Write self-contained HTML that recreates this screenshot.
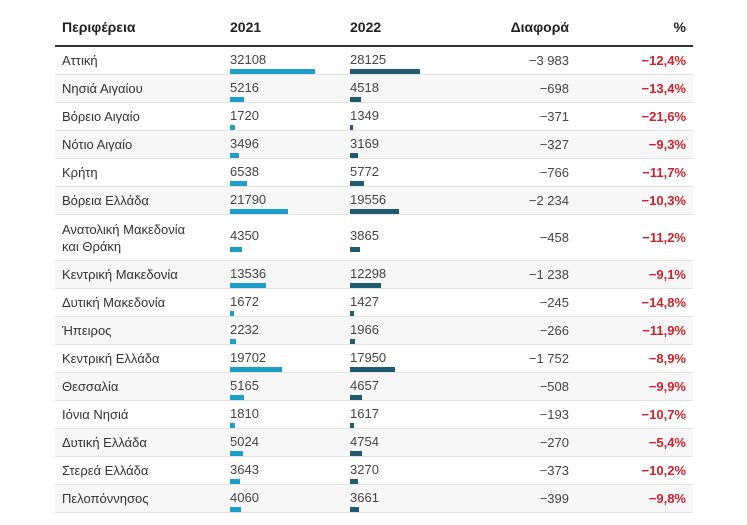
<!DOCTYPE html>
<html><head><meta charset="utf-8"><style>
body{margin:0;width:747px;height:525px;background:#fff;font-family:"Liberation Sans","DejaVu Sans",sans-serif;position:relative;overflow:hidden;color:#333}
.h{position:absolute;top:19px;font-weight:bold;font-size:14px;color:#222}
.hl{position:absolute;left:55px;width:638px;top:45px;height:2px;background:#333}
.r{position:absolute;left:55px;width:638px;border-bottom:1px solid #e2e2e2;box-sizing:border-box}
.r.s{background:#f7f7f7}
.n{position:absolute;left:7px;font-size:13px;line-height:17px}
.v{position:absolute;top:5px;font-size:13px;color:#444}
.b{position:absolute;height:5px}
.d{position:absolute;right:124px;font-size:13px;color:#444}
.p{position:absolute;right:7px;font-size:13px;color:#c8232c;font-weight:bold}
</style></head><body>
<div class="h" style="left:62px">Περιφέρεια</div>
<div class="h" style="left:230px">2021</div>
<div class="h" style="left:350px">2022</div>
<div class="h" style="right:178px">Διαφορά</div>
<div class="h" style="right:61px">%</div>
<div class="hl"></div>
<div id="t"></div>
<script>
var d=[["Αττική",32108,28125,"−3 983","−12,4%"],["Νησιά Αιγαίου",5216,4518,"−698","−13,4%"],["Βόρειο Αιγαίο",1720,1349,"−371","−21,6%"],["Νότιο Αιγαίο",3496,3169,"−327","−9,3%"],["Κρήτη",6538,5772,"−766","−11,7%"],["Βόρεια Ελλάδα",21790,19556,"−2 234","−10,3%"],["Ανατολική Μακεδονία<br>και Θράκη",4350,3865,"−458","−11,2%"],["Κεντρική Μακεδονία",13536,12298,"−1 238","−9,1%"],["Δυτική Μακεδονία",1672,1427,"−245","−14,8%"],["Ήπειρος",2232,1966,"−266","−11,9%"],["Κεντρική Ελλάδα",19702,17950,"−1 752","−8,9%"],["Θεσσαλία",5165,4657,"−508","−9,9%"],["Ιόνια Νησιά",1810,1617,"−193","−10,7%"],["Δυτική Ελλάδα",5024,4754,"−270","−5,4%"],["Στερεά Ελλάδα",3643,3270,"−373","−10,2%"],["Πελοπόννησος",4060,3661,"−399","−9,8%"]];
var y=47,h="";
d.forEach(function(r,i){var H=i==6?46:28;var m=H/2;
var w1=Math.max(2,Math.round(r[1]*0.00265)),w2=Math.max(2,Math.round(r[2]*0.00249));
var vt=i==6?13:5;var bt=i==6?32:22;
h+='<div class="r'+(i%2?' s':'')+'" style="top:'+y+'px;height:'+H+'px">'+
'<div class="n" style="top:'+(i==6?6:5)+'px">'+r[0]+'</div>'+
'<div class="v" style="left:175px;top:'+vt+'px">'+r[1]+'</div>'+
'<div class="v" style="left:295px;top:'+vt+'px">'+r[2]+'</div>'+
'<div class="b" style="left:175px;top:'+bt+'px;width:'+w1+'px;background:#1e9fc8"></div>'+
'<div class="b" style="left:295px;top:'+bt+'px;width:'+w2+'px;background:#1f5b71"></div>'+
'<div class="d" style="top:'+(m-8)+'px">'+r[3]+'</div>'+
'<div class="p" style="top:'+(m-8)+'px">'+r[4]+'</div></div>';
y+=H;});
document.getElementById("t").innerHTML=h;
</script>
</body></html>
